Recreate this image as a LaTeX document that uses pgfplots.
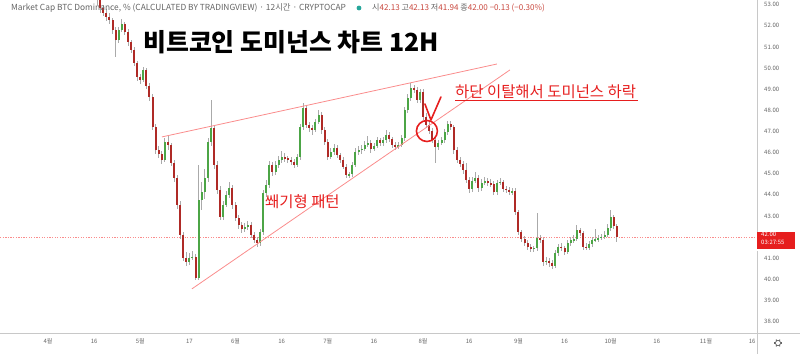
\documentclass[border=0pt]{standalone}
\usepackage{xcolor}
\usepackage{pgfplots}
\pgfplotsset{compat=1.18}
\usepackage{pgfplotstable}
\usepackage{fontspec}
\setmainfont{Noto Sans CJK KR}
\definecolor{tvgreen}{HTML}{4CA546}
\definecolor{tvred}{HTML}{AF2A26}
\definecolor{wick}{HTML}{AAAAAA}
\definecolor{axgray}{HTML}{C8C8C8}
\definecolor{txtgray}{HTML}{646464}
\definecolor{annot}{HTML}{E61E1E}
\definecolor{wedge}{HTML}{FA8C8C}
\definecolor{hdrred}{HTML}{C8463C}
\definecolor{dotgreen}{HTML}{26A69A}

\pgfplotstableread{
d o h l c
16 53.60 53.75 53.00 53.20
17 53.20 53.35 52.60 52.84
18 52.84 53.00 52.45 52.61
19 52.61 52.80 52.25 52.42
20 52.42 52.60 52.10 52.27
21 52.27 52.35 51.60 51.80
22 51.80 51.95 50.52 51.33
23 51.33 51.95 51.20 51.80
24 51.80 52.30 51.70 52.08
25 52.08 52.20 51.55 51.71
26 51.71 51.85 51.05 51.23
27 51.23 51.35 50.70 50.86
28 50.86 51.00 50.10 50.24
29 50.24 50.35 49.40 49.58
30 49.58 49.70 49.25 49.44
31 49.44 50.05 49.35 49.91
32 49.91 50.00 49.00 49.15
33 49.15 49.30 48.45 48.63
34 48.63 48.75 47.05 47.21
35 47.21 47.35 45.95 46.12
36 46.12 46.30 45.75 45.93
37 45.93 46.05 45.45 45.65
38 45.65 46.70 45.55 46.50
39 46.50 46.83 46.10 46.36
40 46.36 46.45 45.35 45.51
41 45.51 45.65 44.60 44.80
42 44.80 44.95 43.35 43.52
43 43.52 43.70 41.90 42.10
44 42.10 42.25 40.85 41.01
45 41.01 41.30 40.65 40.82
46 40.82 41.25 40.70 41.01
47 41.01 41.35 40.90 41.06
48 41.06 41.20 39.97 40.06
49 40.06 45.41 39.95 43.76
50 43.76 44.60 43.30 44.13
51 44.13 45.20 43.80 44.80
52 44.80 46.70 44.60 46.50
53 46.50 48.49 46.30 47.16
54 47.16 47.30 45.20 45.41
55 45.41 45.60 44.05 44.23
56 44.23 44.40 42.80 42.95
57 42.95 43.70 42.80 43.52
58 43.52 44.20 43.40 43.99
59 43.99 44.60 43.85 44.32
60 44.32 44.45 43.35 43.52
61 43.52 43.65 42.75 42.90
62 42.90 43.05 42.40 42.57
63 42.57 42.70 42.20 42.38
64 42.38 42.65 42.25 42.48
65 42.48 42.75 42.35 42.57
66 42.57 42.70 41.95 42.10
67 42.10 42.25 41.70 41.86
68 41.86 42.00 41.55 41.72
69 41.72 42.40 41.60 42.24
70 42.24 44.25 42.10 44.09
71 44.09 44.70 43.90 44.46
72 44.46 45.60 44.30 45.41
73 45.41 45.55 44.90 45.08
74 45.08 45.60 44.95 45.41
75 45.41 45.85 45.25 45.65
76 45.65 46.05 45.50 45.79
77 45.79 46.00 45.55 45.72
78 45.72 45.85 45.50 45.65
79 45.65 45.80 45.40 45.55
80 45.55 45.70 45.25 45.41
81 45.41 45.95 45.30 45.79
82 45.79 47.35 45.65 47.21
83 47.21 48.35 47.05 48.11
84 48.11 48.25 47.15 47.30
85 47.30 47.45 46.95 47.16
86 47.16 47.30 46.85 47.07
87 47.07 47.60 46.95 47.45
88 47.45 48.00 47.35 47.78
89 47.78 47.90 46.90 47.07
90 47.07 47.20 46.35 46.50
91 46.50 46.65 45.65 45.79
92 45.79 46.20 45.70 46.03
93 46.03 46.40 45.90 46.22
94 46.22 46.35 45.75 45.89
95 45.89 46.00 45.50 45.65
96 45.65 45.80 45.20 45.32
97 45.32 45.45 44.80 44.94
98 44.94 45.10 44.80 44.98
99 44.98 45.55 44.85 45.41
100 45.41 46.20 45.30 46.03
101 46.03 46.30 45.90 46.12
102 46.12 46.35 45.95 46.17
103 46.17 46.55 46.05 46.36
104 46.36 46.80 46.25 46.45
105 46.45 46.60 46.00 46.17
106 46.17 46.45 46.05 46.31
107 46.31 46.75 46.20 46.59
108 46.59 46.70 46.30 46.45
109 46.45 46.75 46.30 46.59
110 46.59 47.05 46.45 46.83
111 46.83 46.95 46.50 46.64
112 46.64 46.75 46.20 46.36
113 46.36 46.50 46.10 46.26
114 46.26 46.50 46.15 46.36
115 46.36 46.85 46.25 46.69
116 46.69 48.15 46.55 48.01
117 48.01 48.75 47.85 48.58
118 48.58 49.29 48.45 49.06
119 49.06 49.20 48.80 48.96
120 48.96 49.10 48.35 48.49
121 48.49 49.00 48.35 48.87
122 48.87 49.00 47.55 47.68
123 47.68 47.85 47.15 47.30
124 47.30 47.45 46.90 47.02
125 47.02 47.15 46.45 46.59
126 46.59 46.70 45.51 46.26
127 46.26 46.60 46.10 46.45
128 46.45 46.75 46.35 46.59
129 46.59 47.10 46.45 46.97
130 46.97 47.50 46.85 47.35
131 47.35 47.50 47.05 47.21
132 47.21 47.30 45.95 46.12
133 46.12 46.25 45.50 45.65
134 45.65 45.80 45.30 45.46
135 45.46 45.60 45.00 45.18
136 45.18 45.50 44.55 44.70
137 44.70 44.85 44.10 44.28
138 44.28 44.85 44.15 44.66
139 44.66 45.10 44.55 44.80
140 44.80 44.95 44.15 44.32
141 44.32 44.75 44.20 44.56
142 44.56 44.85 44.45 44.66
143 44.66 44.80 44.40 44.56
144 44.56 44.75 44.35 44.51
145 44.51 44.65 44.00 44.13
146 44.13 44.70 44.00 44.56
147 44.56 44.80 44.45 44.61
148 44.61 44.70 44.15 44.28
149 44.28 44.40 44.10 44.23
150 44.23 44.35 44.00 44.13
151 44.13 44.30 44.00 44.18
152 44.18 44.30 43.05 43.19
153 43.19 43.30 42.10 42.24
154 42.24 42.35 41.75 41.91
155 41.91 42.05 41.60 41.72
156 41.72 41.85 41.40 41.53
157 41.53 41.65 41.30 41.44
158 41.44 41.60 41.30 41.48
159 41.48 43.14 41.35 41.96
160 41.96 42.10 41.70 41.86
161 41.86 41.95 40.65 40.82
162 40.82 41.05 40.70 40.87
163 40.87 41.00 40.60 40.77
164 40.77 40.90 40.50 40.63
165 40.63 41.40 40.55 41.25
166 41.25 41.65 41.10 41.53
167 41.53 41.70 41.35 41.50
168 41.50 41.60 41.15 41.29
169 41.29 41.85 41.20 41.72
170 41.72 42.00 41.60 41.86
171 41.86 42.10 41.70 41.90
172 41.90 42.55 41.80 42.34
173 42.34 42.45 42.05 42.19
174 42.19 42.30 41.40 41.53
175 41.53 41.70 41.40 41.50
176 41.50 41.80 41.40 41.67
177 41.67 42.00 41.55 41.86
178 41.86 42.40 41.75 41.88
179 41.88 42.10 41.75 41.96
180 41.96 42.15 41.85 42.00
181 42.00 42.30 41.90 42.10
182 42.10 42.60 42.00 42.43
183 42.43 43.28 42.30 42.95
184 42.95 43.05 42.40 42.53
185 42.53 42.60 41.75 42.00
}\btc

\begin{document}
\begin{tikzpicture}
\useasboundingbox (0,0) rectangle (800bp,354bp);
\begin{axis}[
  at={(0,21bp)}, anchor=south west,
  scale only axis, width=757bp, height=333bp,
  xmin=-15.6, xmax=230.6, ymin=37.46, ymax=53.22,
  axis x line*=bottom, axis y line*=right,
  axis line style={draw=none}, tick style={draw=none},
  xtick={0,15,30,46,61,76,91,106,122,137,153,168,183,198,214,229},
  xticklabels={4월,16,5월,17,6월,16,7월,16,8월,16,9월,16,10월,16,11월,16},
  xticklabel style={anchor=center, yshift=-8bp, font=\fontsize{6}{7}\selectfont, text=txtgray},
  ytick={38,39,40,41,43,44,45,46,47,48,49,50,51,52,53},
  yticklabels={38.00,39.00,40.00,41.00,43.00,44.00,45.00,46.00,47.00,48.00,49.00,50.00,51.00,52.00,53.00},
  yticklabel style={anchor=west, inner sep=0pt, xshift=7bp, font=\fontsize{6}{7}\selectfont, text=txtgray},
  clip=false,
]
% last price line
\addplot[draw=wedge, line width=0.7bp, dash pattern=on 1.3bp off 1.3bp, forget plot] coordinates {(-15.6,42) (230.6,42)};
% wicks
\addplot[draw=none, mark=none, forget plot,
  error bars/.cd, y dir=both, y explicit, error mark=none,
  error bar style={draw=wick, line width=0.7bp}]
  table[x=d, y expr={(\thisrow{h}+\thisrow{l})/2}, y error expr={(\thisrow{h}-\thisrow{l})/2}] {\btc};
% green bodies
\addplot[draw=none, mark=none, forget plot,
  restrict expr to domain={\thisrow{c}-\thisrow{o}}{0:100},
  error bars/.cd, y dir=both, y explicit, error mark=none,
  error bar style={draw=tvgreen, line width=2bp}]
  table[x=d, y expr={(\thisrow{o}+\thisrow{c})/2}, y error expr={max(abs(\thisrow{c}-\thisrow{o})/2,0.025)}] {\btc};
% red bodies
\addplot[draw=none, mark=none, forget plot,
  restrict expr to domain={\thisrow{o}-\thisrow{c}}{0.00001:100},
  error bars/.cd, y dir=both, y explicit, error mark=none,
  error bar style={draw=tvred, line width=2bp}]
  table[x=d, y expr={(\thisrow{o}+\thisrow{c})/2}, y error expr={max(abs(\thisrow{c}-\thisrow{o})/2,0.025)}] {\btc};
% wedge lines
\addplot[draw=wedge, line width=0.8bp, forget plot] coordinates {(37.07,46.74) (146.0,50.19)};
\addplot[draw=wedge, line width=0.8bp, forget plot] coordinates {(46.83,39.55) (150.24,49.91)};
% breakout mark
\addplot[draw=annot, line width=1.6bp, line join=round, line cap=round, forget plot] coordinates {(122.6,48.30) (124.55,47.54) (127.8,48.63)};
\draw[draw=annot, line width=1.6bp] (axis cs:123.25,47.02) circle[radius=10.5bp];
% price box at the right axis
\addplot[fill=annot, draw=none, forget plot] coordinates {(230.6,42.26) (242.9,42.26) (242.9,41.43) (230.6,41.43)} -- cycle;
\node[anchor=base west, inner sep=0pt, font=\fontsize{6}{7}\selectfont, text=white] at (axis cs:231.9,42.02) {42.00};
\node[anchor=base west, inner sep=0pt, font=\fontsize{6}{7}\selectfont, text=white] at (axis cs:231.9,41.64) {03:27:55};
\end{axis}
% frame lines
\draw[draw=axgray, line width=0.8bp] (0,21bp) -- (800bp,21bp);
\draw[draw=axgray, line width=0.8bp] (757bp,0) -- (757bp,103bp);
\draw[draw=axgray, line width=0.8bp] (757bp,122bp) -- (757bp,354bp);
% gear
\draw[draw=txtgray, line width=0.7bp] (778bp,11bp) circle[radius=2.6bp];
\foreach \a in {0,60,...,300} \draw[draw=txtgray, line width=1.1bp] (778bp,11bp) ++(\a:2.6bp) -- ++(\a:1.3bp);
% header
\node[anchor=base west, inner sep=0pt, font=\fontsize{8.4}{9}\selectfont, text=txtgray] at (11bp,343bp) {Market Cap BTC Dominance, \% (CALCULATED BY TRADINGVIEW) · 12시간 · CRYPTOCAP};
\fill[dotgreen] (359bp,346bp) circle[radius=2.4bp];
\node[anchor=base west, inner sep=0pt, font=\fontsize{8.1}{9}\selectfont] at (372bp,343bp) {\textcolor{txtgray}{시}\textcolor{hdrred}{42.13} \textcolor{txtgray}{고}\textcolor{hdrred}{42.13} \textcolor{txtgray}{저}\textcolor{hdrred}{41.94} \textcolor{txtgray}{종}\textcolor{hdrred}{42.00 −0.13 (−0.30\%)}};
% title
\node[anchor=base west, inner sep=0pt, font=\fontsize{25}{25}\selectfont\bfseries] at (143bp,302bp) {비트코인 도미넌스 차트 12H};
% annotations
\node[anchor=base west, inner sep=0pt, font=\fontsize{15.5}{16}\selectfont, text=annot] at (455bp,256bp) {하단 이탈해서 도미넌스 하락};
\node[anchor=south west, inner sep=0pt, outer sep=0pt, text=annot] at (455bp,252.6bp) {\rule{183bp}{0.8bp}};
\node[anchor=base west, inner sep=0pt, font=\fontsize{15.5}{16}\selectfont, text=annot] at (265bp,146bp) {쐐기형 패턴};
\end{tikzpicture}
\end{document}
